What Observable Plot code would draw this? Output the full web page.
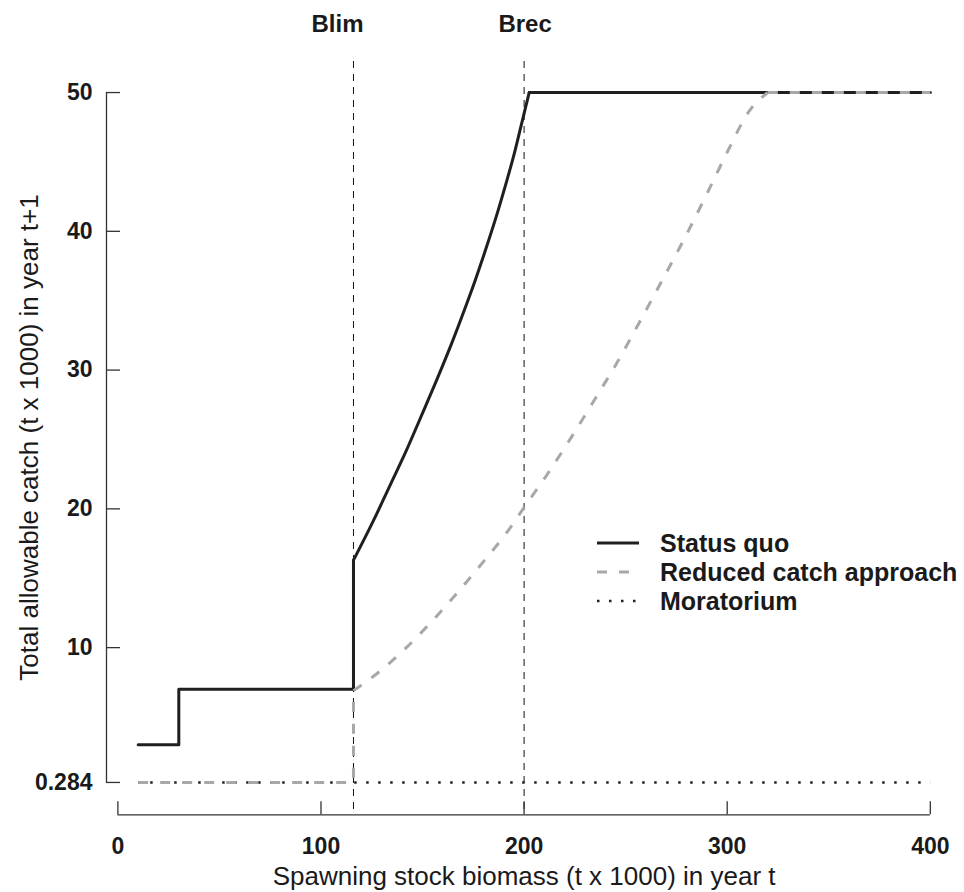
<!DOCTYPE html>
<html><head><meta charset="utf-8">
<script src="https://cdn.jsdelivr.net/npm/d3@7"></script>
<script src="https://cdn.jsdelivr.net/npm/@observablehq/plot@0.6"></script>
<style>
html,body{margin:0;padding:0;background:#fff;}
#chart{position:relative;width:964px;height:892px;}
#legend{position:absolute;left:0;top:0;pointer-events:none;}
</style></head><body><div id="chart"></div>
<script>
// ---- data ----
const xTicks = [0, 100, 200, 300, 400];
const yTicks = [0.284, 10, 20, 30, 40, 50];
const refX = [116, 200];
const refLabels = ["Blim", "Brec"];
// Status quo: step part (below Blim), rising curve, plateau
const statusQuoStepX = [10, 30, 30, 116, 116];
const statusQuoStepY = [3, 3, 7, 7, 16.3];
const statusQuoCurveX = [116, 126, 134, 142, 150, 157, 164, 170, 176, 182, 187, 191, 195, 199.5, 202.5];
const statusQuoCurveY = [16.3, 19.2, 21.7, 24.2, 26.9, 29.3, 31.8, 34.1, 36.5, 39.1, 41.4, 43.4, 45.5, 48.2, 50];
const statusQuoFlatX = [202.5, 400];
const statusQuoFlatY = [50, 50];
// Reduced catch approach: floor below Blim, rising curve, plateau
const reducedStepX = [10, 116, 116];
const reducedStepY = [0.284, 0.284, 6.9];
const reducedCurveX = [116, 129, 142, 154, 165, 180, 192, 200, 211, 223, 234, 246, 257, 267, 279, 290, 300, 311, 320];
const reducedCurveY = [6.9, 8.3, 10.0, 11.8, 13.6, 16.2, 18.4, 20.1, 22.4, 25.1, 27.7, 30.6, 33.5, 36.2, 39.5, 42.7, 45.7, 48.7, 50];
const reducedFlatX = [320, 400];
const reducedFlatY = [50, 50];
// Moratorium
const moratoriumX = [10, 400];
const moratoriumY = [0.284, 0.284];
const seriesNames = ["Status quo", "Reduced catch approach", "Moratorium"];
const xTitle = "Spawning stock biomass (t x 1000) in year t";
const yTitle = "Total allowable catch (t x 1000) in year t+1";

// ---- styles ----
const FONT = "'Liberation Sans', Arial, Helvetica, sans-serif";
const INK = "#1a1a1a";
const styles = [
  {stroke: "#1f1f1f", strokeWidth: 3, dash: null, cap: "round"},
  {stroke: "#a8a8a8", strokeWidth: 3, dash: "10,12", cap: "butt"},
  {stroke: "#222", strokeWidth: 2.5, dash: "2.5,9.5", cap: "butt"}
];

const rows = (xs, ys) => xs.map((x, i) => ({x, y: ys[i]}));
const allX = [...statusQuoStepX, ...statusQuoCurveX, ...statusQuoFlatX, ...reducedStepX, ...reducedCurveX, ...reducedFlatX, ...moratoriumX];
const allY = [...statusQuoStepY, ...statusQuoCurveY, ...statusQuoFlatY, ...reducedStepY, ...reducedCurveY, ...reducedFlatY, ...moratoriumY];
const xe = d3.extent(allX);
const ye = d3.extent(allY);
const padX = (xe[1] - xe[0]) * 0.04, padY = (ye[1] - ye[0]) * 0.045;
const xDomain = [xe[0] - padX, xe[1] + padX];
const yDomain = [ye[0] - padY, ye[1] + padY];

function lineMarks(xs, ys, s, curve) {
  return Plot.line(rows(xs, ys), {
    x: "x", y: "y", stroke: s.stroke, strokeWidth: s.strokeWidth,
    strokeDasharray: s.dash, strokeLinecap: s.cap, strokeLinejoin: "round",
    curve: curve || "linear"
  });
}

const plot = Plot.plot({
  width: 964, height: 892,
  marginLeft: 106, marginRight: 2.5, marginTop: 61, marginBottom: 79,
  x: {domain: xDomain},
  y: {domain: yDomain},
  style: {fontFamily: FONT, color: INK, background: "#fff", overflow: "visible"},
  marks: [
    Plot.ruleX(refX, {stroke: "#111", strokeWidth: 1, strokeDasharray: "7,6"}),
    lineMarks(statusQuoStepX, statusQuoStepY, styles[0]),
    lineMarks(statusQuoCurveX, statusQuoCurveY, styles[0], "monotone-x"),
    lineMarks(statusQuoFlatX, statusQuoFlatY, styles[0]),
    lineMarks(moratoriumX, moratoriumY, styles[2]),
    lineMarks(reducedStepX, reducedStepY, styles[1]),
    lineMarks(reducedCurveX, reducedCurveY, styles[1], "monotone-x"),
    lineMarks(reducedFlatX, reducedFlatY, styles[1]),
    // y axis
    Plot.ruleX([xDomain[0]], {y1: yTicks[0], y2: yTicks[yTicks.length - 1], stroke: "#333", strokeWidth: 1.3}),
    Plot.axisY({ticks: yTicks, tickSize: -14, tickPadding: 28, tickFormat: d => String(d), fontSize: 23, fontWeight: "bold", strokeWidth: 1.3, stroke: "#333", label: null}),
    // x axis
    Plot.ruleY([yDomain[0]], {x1: xTicks[0], x2: xTicks[xTicks.length - 1], dy: 1.3, stroke: "#333", strokeWidth: 1.3}),
    Plot.axisX({ticks: xTicks, tickSize: -13, tickPadding: 36, dy: 1.3, tickFormat: d => String(d), fontSize: 23, fontWeight: "bold", strokeWidth: 1.3, stroke: "#333", label: null}),
    // titles
    Plot.text([yTitle], {frameAnchor: "left", y: (yTicks[0] + yTicks[yTicks.length - 1]) / 2, rotate: -90, dx: -77, fontSize: 26, fill: INK, textAnchor: "middle", lineAnchor: "middle"}),
    Plot.text([xTitle], {frameAnchor: "bottom", x: (xTicks[0] + xTicks[xTicks.length - 1]) / 2, dy: 63, fontSize: 26, fill: INK, textAnchor: "middle", lineAnchor: "middle"}),
    // reference labels
    Plot.text([refLabels[0]], {x: refX[0], frameAnchor: "top", dy: -37, dx: -16, fontSize: 24, fontWeight: "bold", fill: INK, lineAnchor: "middle"}),
    Plot.text([refLabels[1]], {x: refX[1], frameAnchor: "top", dy: -37, dx: 1, fontSize: 24, fontWeight: "bold", fill: INK, lineAnchor: "middle"})
  ]
});
document.getElementById("chart").appendChild(plot);

// ---- legend overlay ----
const leg = d3.select("#chart").append("svg").attr("id", "legend")
  .attr("width", 964).attr("height", 892);
const legX = 597, legLen = 42, legTextX = 660, legY0 = 543, legStep = 29;
seriesNames.forEach((name, i) => {
  const y = legY0 + i * legStep;
  const s = styles[i];
  leg.append("line").attr("x1", legX).attr("x2", legX + legLen).attr("y1", y).attr("y2", y)
    .attr("stroke", s.stroke).attr("stroke-width", s.strokeWidth)
    .attr("stroke-dasharray", s.dash).attr("stroke-linecap", "butt");
  leg.append("text").attr("x", legTextX).attr("y", y + 9)
    .attr("font-family", FONT).attr("font-size", 25).attr("font-weight", "bold")
    .attr("fill", INK).text(name);
});
</script></body></html>
